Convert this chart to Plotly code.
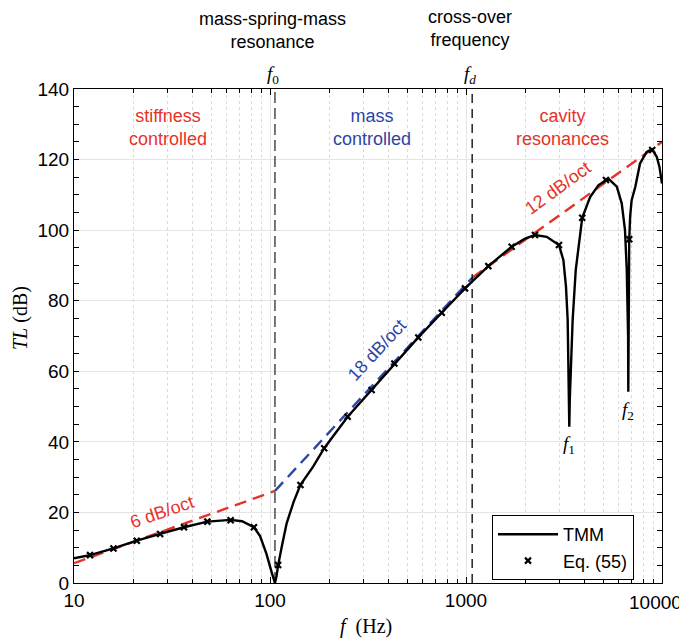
import math
import plotly.graph_objects as go

# ---------------- data ----------------
tmm_f = [10, 12.07, 15.9, 20.9, 27.5, 36.4, 47.9, 56, 63, 72, 82.8, 89, 96, 102, 104, 106,
         108, 110, 115, 121.6, 132, 143, 166, 189, 249, 330, 431, 571, 752, 988, 1300, 1710,
         2000, 2249, 2582, 2980, 3140, 3237, 3302, 3335, 3350, 3365, 3385, 3420, 3500, 3630,
         3917, 4297, 4735, 5320, 5880, 6230, 6475, 6610, 6690, 6715, 6730, 6750, 6780, 6805,
         6880, 7000, 7310, 7725, 8350, 8900, 9400, 9700, 10000]
tmm_tl = [7.0, 7.9, 9.8, 12.0, 13.9, 15.8, 17.4, 17.8, 17.9, 17.5, 15.8, 13.3, 8.2, 3.0, 1.5, 0.0,
          2.0, 5.0, 10.5, 16.9, 23.0, 27.8, 33.0, 38.2, 47.1, 54.7, 62.2, 69.6, 76.6, 83.5, 89.8, 95.3,
          97.6, 98.6, 98.1, 95.8, 91.5, 84.0, 74.5, 60.3, 52.0, 44.3, 52.0, 60.3, 74.5, 88.7,
          103.5, 109.4, 112.7, 114.6, 112.3, 107.6, 100.0, 88.7, 78.0, 70.0, 54.2, 70.0, 85.0, 97.4,
          104.0, 108.5, 112.3, 118.9, 122.2, 122.9, 120.8, 118.0, 113.2]

eq55_f = [12.07, 15.9, 20.9, 27.5, 36.4, 47.9, 63.0, 82.8, 110, 143, 189, 249, 330, 431, 571,
          752, 988, 1300, 1710, 2249, 2980, 3917, 5176, 6805, 8914]
eq55_tl = [7.9, 9.8, 12.0, 13.9, 15.8, 17.4, 17.8, 15.8, 5.1, 27.8, 38.2, 47.1, 54.7, 62.2, 69.6,
           76.6, 83.5, 89.8, 95.3, 98.6, 95.8, 103.5, 114.2, 97.4, 122.7]

f0 = 106      # mass-spring-mass resonance (Hz)
fd = 1075     # cross-over frequency (Hz)
f1 = 3365
f2 = 6730

stiff_f = [10, f0]
stiff_tl = [5.6, 26.1]
mass_f = [f0, fd]
mass_tl = [26.1, 86.5]
cavity_f = [fd, 10000]
cavity_tl = [86.5, 125.0]

x_major = [10, 100, 1000, 10000]
x_major_labels = ["10", "100", "1000", ""]   # last label drawn separately so it is not clipped
x_last_label = "10000"
x_minor = [m * d for d in (10, 100, 1000) for m in range(2, 10)]
y_ticks = list(range(0, 141, 20))

# ---------------- styles ----------------
RED = "#E5332A"
BLUE = "#2D45A6"
SANS = "Liberation Sans, Arial, sans-serif"
SERIF = "Liberation Serif, Times New Roman, serif"
lg = math.log10

# page has an 8px body margin: figure is 8px smaller, plot area lands at 74..662 x 89..583
W, H = 679, 630
ML, MR, MT, MB = 66, 25, 81, 55
PW, PH = W - ML - MR, H - MT - MB  # 588 x 494


def px_x(px):   # page pixel -> paper x
    return (px - 8 - ML) / PW


def px_y(py):   # page pixel -> paper y
    return (H - MB - (py - 8)) / PH


fig = go.Figure()

# asymptotes
fig.add_trace(go.Scatter(x=stiff_f, y=stiff_tl, mode="lines", showlegend=False,
                         line=dict(color=RED, width=2.4, dash="12px,7px")))
fig.add_trace(go.Scatter(x=mass_f, y=mass_tl, mode="lines", showlegend=False,
                         line=dict(color=BLUE, width=2.4, dash="12px,7px")))
fig.add_trace(go.Scatter(x=cavity_f, y=cavity_tl, mode="lines", showlegend=False,
                         line=dict(color=RED, width=2.4, dash="12px,7px")))

# vertical markers f0 / fd
fig.add_trace(go.Scatter(x=[f0, f0], y=[0, 140], mode="lines", showlegend=False,
                         line=dict(color="#555555", width=1.6, dash="11px,5px")))
fig.add_trace(go.Scatter(x=[fd, fd], y=[0, 140], mode="lines", showlegend=False,
                         line=dict(color="black", width=1.3, dash="9px,6px")))

# TMM curve
fig.add_trace(go.Scatter(x=tmm_f, y=tmm_tl, mode="lines", name="TMM",
                         line=dict(color="black", width=2.4)))
# Eq. (55) markers (drawn on overlay axis with the same range)
fig.add_trace(go.Scatter(x=eq55_f, y=eq55_tl, mode="markers", name="Eq. (55)", xaxis="x2",
                         marker=dict(symbol="x-thin", size=6, color="black",
                                     line=dict(color="black", width=2.2))))

fig.update_layout(
    width=W, height=H,
    margin=dict(l=ML, r=MR, t=MT, b=MB, autoexpand=False),
    paper_bgcolor="white", plot_bgcolor="white",
    font=dict(family=SANS, size=18, color="black"),
    xaxis=dict(type="log", range=[1, 4], tickvals=x_major, ticktext=x_major_labels,
               ticks="inside", ticklen=6, tickcolor="black", showline=True, linecolor="black",
               linewidth=1.2, mirror="allticks", showgrid=True, gridcolor="#e4e4e4", gridwidth=1.3,
               zeroline=False, tickfont=dict(family=SANS, size=19)),
    xaxis2=dict(type="log", range=[1, 4], overlaying="x", anchor="y", tickvals=x_minor,
                showticklabels=False, ticks="inside", ticklen=4, tickcolor="black",
                mirror="allticks", showline=False, showgrid=True, gridcolor="#dadada",
                griddash="dot", gridwidth=1, zeroline=False),
    yaxis=dict(range=[0, 140], tickvals=y_ticks, ticks="inside", ticklen=5, tickcolor="black",
               showline=True, linecolor="black", linewidth=1.2, mirror="allticks",
               showgrid=True, gridcolor="#e4e4e4", gridwidth=1.3, zeroline=False,
               tickfont=dict(family=SANS, size=19),
               minor=dict(dtick=5, ticks="inside", ticklen=4, tickcolor="black", showgrid=False)),
    legend=dict(x=px_x(492), y=px_y(515), xanchor="left", yanchor="top", bgcolor="white",
                bordercolor="black", borderwidth=1, font=dict(family=SANS, size=18),
                itemwidth=60, tracegroupgap=0),
    showlegend=True,
)


def ann(text, x, y, color="black", size=18, family=SANS, angle=0, xref="x", yref="y"):
    fig.add_annotation(text=text, x=x, y=y, xref=xref, yref=yref, showarrow=False,
                       font=dict(color=color, size=size, family=family), textangle=angle,
                       xanchor="center", yanchor="middle")


# region labels
ann("stiffness<br>controlled", 1.48, 129, RED)
ann("mass<br>controlled", 2.52, 129, BLUE)
ann("cavity<br>resonances", 3.49, 129, RED)

# slope labels
ann("6 dB/oct", 1.449, 20.1, RED, angle=-19)
ann("18 dB/oct", 2.546, 66.0, BLUE, angle=-47)
ann("12 dB/oct", 3.469, 111.9, RED, angle=-36)

# dip labels
ann("<i>f</i><sub>1</sub>", lg(f1), 39.1, family=SERIF, size=19)
ann("<i>f</i><sub>2</sub>", lg(f2), 48.7, family=SERIF, size=19)

# top labels
ann("mass-spring-mass<br>resonance", 2.015, px_y(31), yref="paper")
ann("cross-over<br>frequency", 3.02, px_y(29), yref="paper")
ann("<i>f</i><sub>0</sub>", lg(f0) - 0.01, px_y(75), family=SERIF, size=19, yref="paper")
ann("<i>f</i><sub><i>d</i></sub>", lg(fd) - 0.01, px_y(75), family=SERIF, size=19, yref="paper")

# last x tick label (kept inside the page)
fig.add_annotation(text=x_last_label, x=px_x(684), y=px_y(602), xref="paper", yref="paper",
                   showarrow=False, xanchor="right", yanchor="middle",
                   font=dict(family=SANS, size=19, color="black"))

# axis titles
ann("<i>f</i>  (Hz)", px_x(366), px_y(626), family=SERIF, size=20, xref="paper", yref="paper")
ann("<i>TL</i> (dB)", px_x(20), px_y(318), family=SERIF, size=20, angle=-90,
    xref="paper", yref="paper")

fig.write_html("out.html")
